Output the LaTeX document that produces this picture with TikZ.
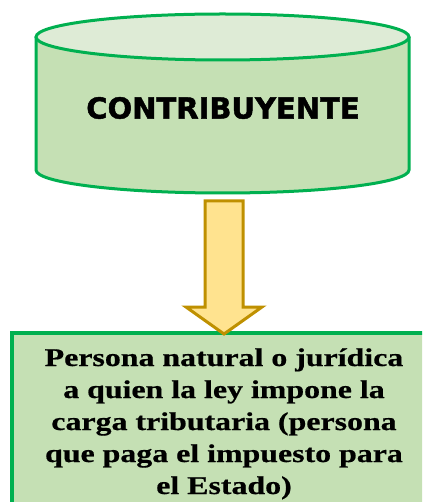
\documentclass[tikz,border=0pt]{standalone}
\usepackage{fontspec}
\setmainfont{Liberation Serif}
\newfontfamily\headfont[FakeBold=1.6]{DejaVu Sans}
\newfontfamily\descfont[FakeStretch=1.25,FakeBold=0.6]{Liberation Serif}
\definecolor{grline}{HTML}{00B050}
\definecolor{grbody}{HTML}{C5E0B4}
\definecolor{grtop}{HTML}{DEEBD6}
\definecolor{arfill}{HTML}{FFE38F}
\definecolor{arline}{HTML}{BF9000}
\begin{document}
\begin{tikzpicture}[x=1pt,y=-1pt,
  cyl/.style={draw=grline, line width=3pt},
  flow/.style={fill=arfill, draw=arline, line width=3pt, line join=miter},
  boxst/.style={fill=grbody, draw=grline, line width=3.5pt}]
\useasboundingbox (0,0) rectangle (422,502);
% cylinder
\fill[grbody] (36,37) -- (36,170) arc[start angle=180,end angle=360,x radius=186.5pt,y radius=23pt] -- (409,37) -- cycle;
\draw[cyl] (36,37) -- (36,170) arc[start angle=180,end angle=360,x radius=186.5pt,y radius=23pt] -- (409,37);
\draw[cyl, fill=grtop] (222.5,37) ellipse[x radius=186.5pt,y radius=23pt];
\node[font=\headfont\bfseries\fontsize{29}{33}\selectfont] (head) at (223,108) {CONTRIBUYENTE};
% bottom box
\begin{scope}
\clip (0,0) rectangle (422,502);
\draw[boxst] (12,333) rectangle (440,520);
\end{scope}
\node[font=\descfont\bfseries\fontsize{25.5}{32}\selectfont, align=center, anchor=base] (desc) at (224,494)
{Persona natural o jurídica\\a quien la ley impone la\\carga tributaria (persona\\que paga el impuesto para\\el Estado)};
% arrow
\draw[flow] (205,201) -- (243,201) -- (243,307) -- (262,307) -- (224,334) -- (186,307) -- (205,307) -- cycle;
\end{tikzpicture}
\end{document}
